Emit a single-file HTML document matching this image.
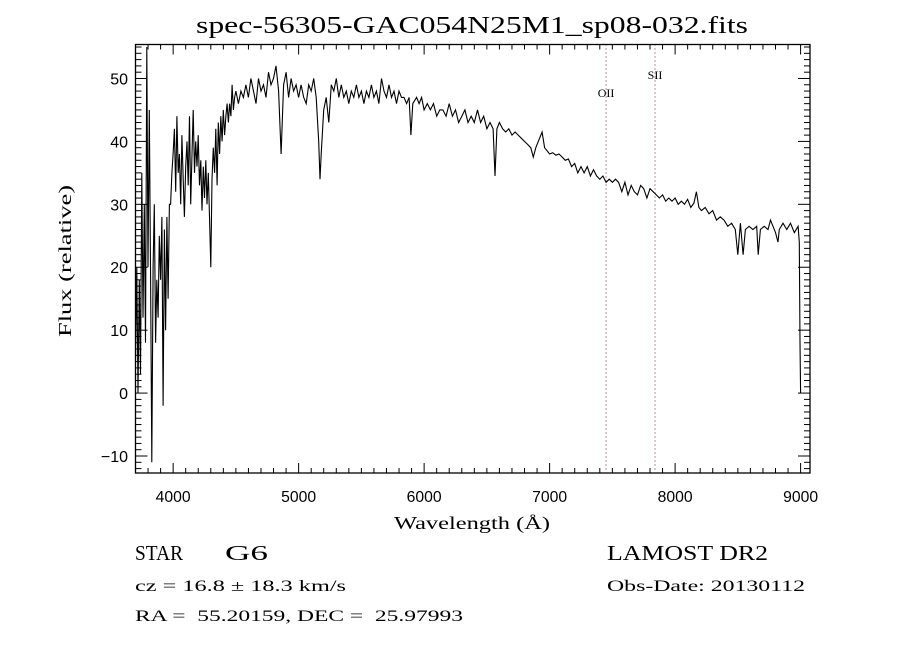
<!DOCTYPE html>
<html><head><meta charset="utf-8"><style>
html,body{margin:0;padding:0;background:#fff}
svg{display:block}
.t{font-family:"Liberation Serif",serif;fill:#000}
.s{font-family:"Liberation Sans",sans-serif;fill:#000}
</style></head><body>
<svg id="chart" width="900" height="650" viewBox="0 0 900 650">
<rect width="900" height="650" fill="#fff"/>
<text class="t" x="196" y="33" font-size="24" textLength="552" lengthAdjust="spacingAndGlyphs">spec-56305-GAC054N25M1_sp08-032.fits</text>
<g id="ticks"></g>
<g id="lines"></g>
<path id="spec" fill="none" stroke="#000" stroke-width="1.1" stroke-linejoin="miter"/>
<rect x="135.5" y="44.5" width="674.5" height="428.5" fill="none" stroke="#000" stroke-width="1.3"/>
<text class="t" x="394" y="529" font-size="18" textLength="156" lengthAdjust="spacingAndGlyphs">Wavelength (Å)</text>
<text class="t" x="0" y="0" font-size="18" textLength="152" lengthAdjust="spacingAndGlyphs" transform="translate(71,337) rotate(-90)">Flux (relative)</text>
<text class="t" x="135" y="560" font-size="21" textLength="48" lengthAdjust="spacingAndGlyphs">STAR</text>
<text class="t" x="225" y="560" font-size="21" textLength="43" lengthAdjust="spacingAndGlyphs">G6</text>
<text class="t" x="607" y="560" font-size="21" textLength="161" lengthAdjust="spacingAndGlyphs">LAMOST DR2</text>
<text class="t" x="135" y="591" font-size="16" textLength="211" lengthAdjust="spacingAndGlyphs">cz = 16.8 ± 18.3 km/s</text>
<text class="t" x="607" y="591" font-size="16" textLength="198" lengthAdjust="spacingAndGlyphs">Obs-Date: 20130112</text>
<text class="t" x="135" y="621" font-size="16" textLength="328" lengthAdjust="spacingAndGlyphs" xml:space="preserve">RA =  55.20159, DEC =  25.97993</text>
</svg>
<script>
const wave=[3700,3710,3720,3730,3740,3750,3760,3770,3780,3790,3800,3810,3820,3830,3840,3850,3860,3870,3880,3890,3900,3910,3920,3930,3940,3950,3960,3970,3980,3990,4000,
4010,4020,4030,4040,4050,4060,4070,4080,4090,4100,4110,4120,4130,4140,4150,4160,4170,4180,4190,4200,4210,4220,4230,4240,4250,4260,4270,4280,4290,4300,4310,4320,4330,4340,4350,4360,4370,4380,4390,4400,4410,4420,4430,4440,4450,4460,4470,4480,4490,4500,
4520,4540,4560,4580,4600,4620,4640,4660,4680,4700,4720,4740,4760,4780,4800,4820,4840,4860,4880,4900,4920,4940,4960,4980,5000,
5020,5040,5060,5080,5100,5120,5140,5160,5170,5180,5200,5220,5240,5260,5280,5300,5320,5340,5360,5380,5400,5420,5440,5460,5480,5500,5520,5540,5560,5580,5600,5620,5640,5660,5680,5700,5720,5740,5760,5780,5800,5820,5840,5860,5880,5895,5910,5940,5960,5980,6000,
6025,6050,6075,6100,6125,6150,6175,6200,6225,6250,6275,6300,6325,6350,6375,6400,6425,6450,6475,6500,6525,6550,6565,6580,6600,6625,6650,6675,6700,6725,6750,6775,6800,6825,6850,6870,6890,6910,6940,6960,6980,7000,
7025,7050,7075,7100,7125,7150,7175,7200,7225,7250,7275,7300,7325,7350,7375,7400,7425,7450,7475,7500,7525,7550,7575,7600,7625,7650,7675,7700,7725,7750,7775,7800,7825,7850,7875,7900,7925,7950,7975,8000,
8025,8050,8075,8100,8125,8150,8170,8190,8210,8240,8270,8300,8330,8360,8390,8420,8450,8480,8500,8520,8542,8560,8590,8620,8650,8662,8680,8710,8740,8760,8780,8800,8820,8830,8860,8890,8920,8950,8980,8990,8995,9000];
const flux=[5,20,0,18,3,35,12,30,8,55,20,45,18,-11,20,30,8,18,12,25,18,28,-2,26,10,28,15,30,30,35,38,
42,32,44,35,38,30,41,34,28,36,40,33,44,30,38,45,35,40,36,41,33,37,29,36,31,37,30,35,28,20,34,39,35,42,33,43,38,44,40,45,41,44,46,43,46,44,49,45,47,48,
46,48,47,49,47,50,48,46,50,48,49,47,51,49,50,52,48,38,49,51,47,50,48,49,47,
49,47,46,49,48,50,47,40,34,38,45,47,43,49,48,50,47,49,47,48,46,48,47,49,47,48,46,48,47,49,47,48,46,50,48,47,49,47,48,46,48,47,47,46,47,41,46,47,46,47,45,
46,45,46,44,45,45,44,46,44,45,43,44,45,43,44,43,45,43,44,42,43,42,34.5,42,43,42,41.5,42,41,41.5,41,40.5,40,39.5,39,37.5,39,40,41.5,39,38.5,38,
38.2,37.8,38,37.5,37,37.2,36,36.5,35,36,35,36,34.5,35.5,34.5,34,34.5,33.5,34,33.5,34,33.5,32,33.5,31.5,33,32,31.5,33,32.5,31,32.5,32,31.5,31,31.5,30.5,31,30.5,31,
30,30.5,30,30.8,29.5,30.2,32,29.5,29,29.5,28.5,29,27.5,28,27.5,26.5,27,26,22,27,22,26,26.5,26,26.5,22,26,26.5,26,27.5,26.5,25.5,24,26,27,26,27,25.5,26.5,24,8,0];
const xTicks=[4000,5000,6000,7000,8000,9000];
const yTicks=[-10,0,10,20,30,40,50];
const lineNames=["OII","SII"];
const lineWaves=[7450,7840];

const X0=135.5,X1=810,Y0=44.5,Y1=473;
const XMIN=3700,XMAX=9075,YMIN=-12.7,YMAX=55.4;
function sx(w){return X0+(w-XMIN)/(XMAX-XMIN)*(X1-X0);}
function sy(f){return Y1-(f-YMIN)/(YMAX-YMIN)*(Y1-Y0);}
const NS="http://www.w3.org/2000/svg";
const tg=document.getElementById('ticks');
function ln(g,x1,y1,x2,y2,extra){const l=document.createElementNS(NS,'line');
l.setAttribute('x1',x1);l.setAttribute('y1',y1);l.setAttribute('x2',x2);l.setAttribute('y2',y2);
l.setAttribute('stroke',extra||'#000');l.setAttribute('stroke-width','1');g.appendChild(l);return l;}
for(let w=3800;w<=9000;w+=100){const x=sx(w);const maj=w%1000===0;const L=maj?10:5;
const a=ln(tg,x,Y1,x,Y1-L);


const b=ln(tg,x,Y0,x,Y0+L);

}
for(let v=-12;v<=55;v+=1){const y=sy(v);const maj=v%10===0;const L=maj?12:6;
const a=ln(tg,X0,y,X0+L,y);


const b=ln(tg,X1,y,X1-L,y);

}
xTicks.forEach(w=>{const t=document.createElementNS(NS,'text');
t.setAttribute('class','s');t.setAttribute('x',sx(w)-17.5);t.setAttribute('y',502);
t.setAttribute('font-size','16');t.setAttribute('textLength','35');t.setAttribute('lengthAdjust','spacingAndGlyphs');t.textContent=w;


tg.appendChild(t);});
yTicks.forEach(v=>{const t=document.createElementNS(NS,'text');
t.setAttribute('class','s');t.setAttribute('x',128);t.setAttribute('y',sy(v)+6);
t.setAttribute('font-size','16');t.setAttribute('text-anchor','end');t.textContent=(v<0?'\u2212'+(-v):v);


tg.appendChild(t);});
const lg=document.getElementById('lines');
const labelY=[93,75];
lineWaves.forEach((w,i)=>{const x=sx(w);
const l=ln(lg,x,Y0,x,Y1,'#6b2a2a');l.setAttribute('stroke-dasharray','1 3');


const t=document.createElementNS(NS,'text');t.setAttribute('class','t');
t.setAttribute('x',x);t.setAttribute('y',labelY[i]+4);t.setAttribute('font-size','12');
t.setAttribute('text-anchor','middle');t.textContent=lineNames[i];


lg.appendChild(t);});
let d='';
for(let i=0;i<wave.length;i++){d+=(i?'L':'M')+sx(wave[i]).toFixed(1)+' '+sy(flux[i]).toFixed(1);}
document.getElementById('spec').setAttribute('d',d);
</script>
</body></html>
